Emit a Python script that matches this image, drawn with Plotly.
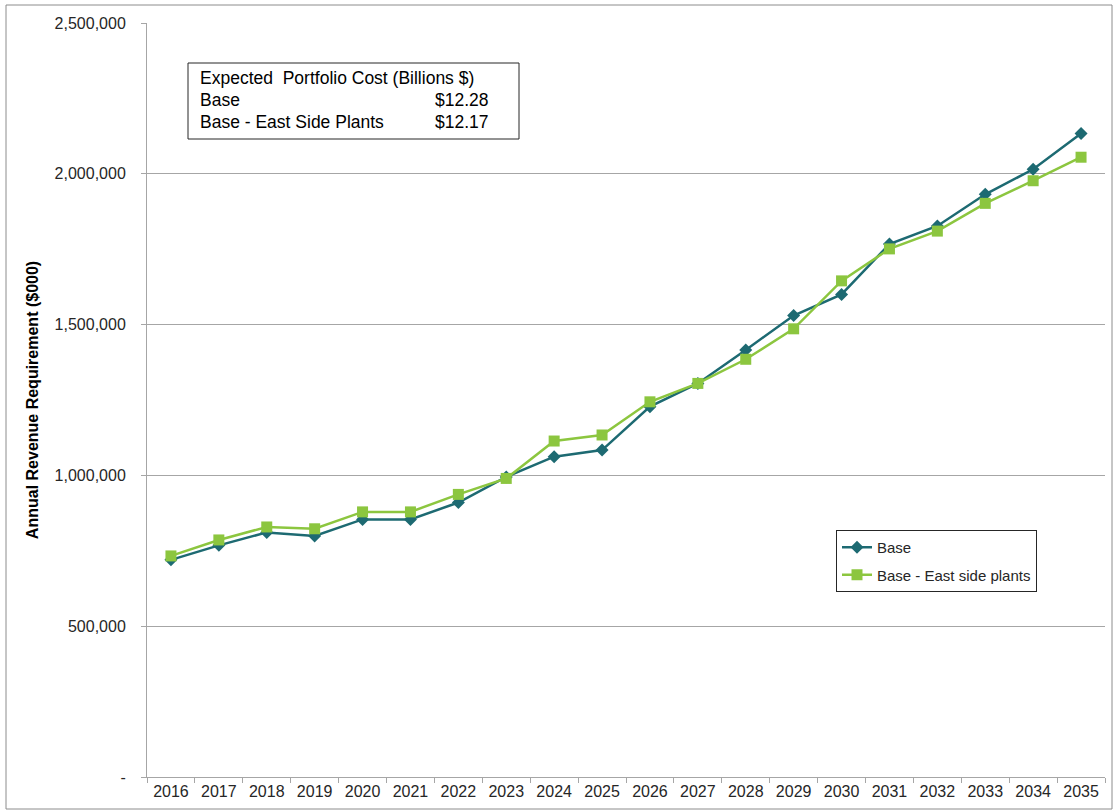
import plotly.graph_objects as go

years = [str(y) for y in range(2016, 2036)]
base = [720000, 768000, 811000, 799000, 854000, 854000, 910000, 995000, 1062000, 1084000,
        1228000, 1305000, 1416000, 1530000, 1600000, 1767000, 1827000, 1932000, 2015000, 2134000]
east_side = [733000, 786000, 829000, 823000, 879000, 879000, 937000, 990000, 1114000, 1134000,
             1244000, 1305000, 1385000, 1486000, 1645000, 1751000, 1810000, 1902000, 1977000, 2055000]

cost_title = "Expected  Portfolio Cost (Billions $)"
cost_rows = [("Base", "$12.28"), ("Base - East Side Plants", "$12.17")]

y_ticks = [0, 500000, 1000000, 1500000, 2000000, 2500000]
y_labels = ["-", "500,000", "1,000,000", "1,500,000", "2,000,000", "2,500,000"]

TEAL = "#1D6A72"
GREEN = "#8CC63F"
FONT = "Liberation Sans, Arial, sans-serif"

fig = go.Figure()
fig.add_trace(go.Scatter(
    x=years, y=base, name="Base", mode="lines+markers", legendgroup="base",
    line=dict(color=TEAL, width=2.5),
    marker=dict(symbol="diamond", size=10, color=TEAL),
))
fig.add_trace(go.Scatter(
    x=years, y=east_side, name="Base - East side plants", mode="lines+markers",
    legendgroup="east",
    line=dict(color=GREEN, width=2.5),
    marker=dict(symbol="square", size=11, color=GREEN),
))

L, R, T, B = 147, 10, 23, 35
W, H = 1115, 812
pw, ph = W - L - R, H - T - B

def px_x(x):
    return (x - L) / pw

def px_y(y):
    return (H - B - y) / ph

fig.update_layout(
    width=W, height=H,
    margin=dict(l=L, r=R, t=T, b=B),
    paper_bgcolor="white", plot_bgcolor="white",
    font=dict(family=FONT, size=15, color="#262626"),
    showlegend=True,
    legend=dict(
        x=px_x(836), y=px_y(530), xanchor="left", yanchor="top",
        bordercolor="#262626", borderwidth=1, bgcolor="white",
        font=dict(size=15, color="#262626"),
        itemwidth=30, tracegroupgap=5,
    ),
    xaxis=dict(
        type="category", range=[-0.5, 19.5],
        showgrid=False, showline=True, linecolor="#A6A6A6", linewidth=1,
        ticks="outside", tickson="boundaries", ticklen=5, tickcolor="#A6A6A6",
        tickfont=dict(size=16, color="#262626"),
        fixedrange=True,
    ),
    yaxis=dict(
        range=[0, 2500000],
        tickvals=y_ticks, ticktext=y_labels,
        showgrid=True, gridcolor="#A6A6A6", gridwidth=1,
        showline=True, linecolor="#A6A6A6", linewidth=1,
        ticks="outside", ticklen=5, tickcolor="#A6A6A6",
        ticklabelstandoff=12,
        zeroline=False,
        tickfont=dict(size=16, color="#262626"),
        title=dict(text="<b>Annual Revenue Requirement ($000)</b>",
                   font=dict(size=16, color="#000000"), standoff=12),
        fixedrange=True,
    ),
)

# outer chart border
fig.add_shape(type="rect", xref="paper", yref="paper",
              x0=px_x(6), x1=px_x(1112), y0=px_y(809), y1=px_y(5),
              line=dict(color="#8C8C8C", width=1), fillcolor="rgba(0,0,0,0)", layer="below")

# cost summary box
fig.add_shape(type="rect", xref="paper", yref="paper",
              x0=px_x(188), x1=px_x(519), y0=px_y(139), y1=px_y(63),
              line=dict(color="#262626", width=1), fillcolor="white")
fig.add_annotation(xref="paper", yref="paper", x=px_x(198), y=px_y(78),
                   xanchor="left", yanchor="middle", text=cost_title, showarrow=False,
                   font=dict(size=17.5, color="#000000"))
for i, (label, value) in enumerate(cost_rows):
    yy = px_y(100 + 22 * i)
    fig.add_annotation(xref="paper", yref="paper", x=px_x(198), y=yy,
                       xanchor="left", yanchor="middle", text=label, showarrow=False,
                       font=dict(size=17.5, color="#000000"))
    fig.add_annotation(xref="paper", yref="paper", x=px_x(491), y=yy,
                       xanchor="right", yanchor="middle", text=value, showarrow=False,
                       font=dict(size=17.5, color="#000000"))

fig.write_html("out.html", config={"displayModeBar": False})
